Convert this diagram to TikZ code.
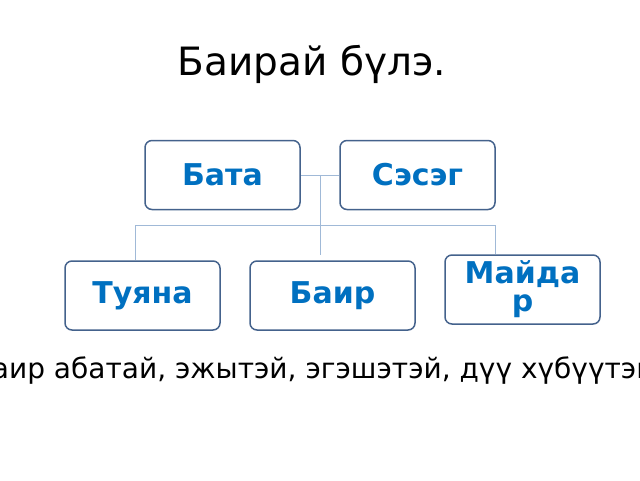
\documentclass[tikz,border=0pt]{standalone}
\usepackage{fontspec}
\setmainfont{DejaVu Sans}
\begin{document}
\begin{tikzpicture}[x=1pt,y=-1pt,
 person/.style={draw=boxc,line width=1.5pt,rounded corners=7pt,fill=white,minimum width=155pt,minimum height=69pt,font=\bfseries\fontsize{30}{30}\selectfont,text=txtc,align=center,inner sep=2pt},
 link/.style={draw=linec,line width=0.9pt}]
\definecolor{boxc}{RGB}{68,98,140}
\definecolor{txtc}{RGB}{0,112,192}
\definecolor{linec}{RGB}{160,185,215}
\useasboundingbox (0,0) rectangle (640,480);
\node[font=\fontsize{39}{42}\selectfont] (title) at (312,64) {Баирай бүлэ.};
\node[person] (bata) at (222.5,175) {Бата};
\node[person] (seseg) at (417.5,175) {Сэсэг};
\node[person] (tuyana) at (142.5,295.5) {Туяна};
\node[person,minimum width=165pt] (bair) at (332.5,295.5) {Баир};
\node[person,text width=140pt] (maidar) at (522.5,289.5) {Майда\\[-2pt]р};
\coordinate (m) at (320,175);
\coordinate (j) at (320,225);
\draw[link] (bata.east) -- (seseg.west);
\draw[link] (m) -- (320,255);
\draw[link] (135,225) -- (495,225);
\draw[link] (135,225) -- (tuyana.north -| 135,0);
\draw[link] (495,225) -- (maidar.north -| 495,0);
\node[font=\fontsize{28}{30}\selectfont,anchor=center] (txt) at (318,371) {Баир абатай, эжытэй, эгэшэтэй, дүү хүбүүтэй.};
\end{tikzpicture}
\end{document}
